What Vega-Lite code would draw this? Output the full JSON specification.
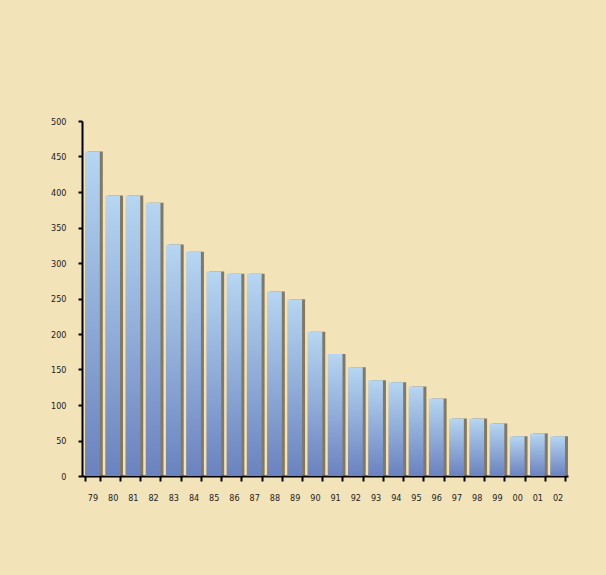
{
  "$schema": "https://vega.github.io/schema/vega-lite/v6.json",
  "width": 486,
  "height": 355,
  "autosize": {"type": "none"},
  "padding": {"left": 82, "top": 121, "right": 38, "bottom": 99},
  "background": "#F2E3B9",
  "config": {
    "view": {"stroke": null},
    "axis": {"labelFont": "DejaVu Sans Condensed", "labelFontSize": 9, "labelColor": "#222222", "domainColor": "#000000", "domainWidth": 2, "tickColor": "#000000", "tickWidth": 2, "grid": false, "title": null}
  },
  "data": {
    "values": [
      {"year": "79", "value": 457},
      {"year": "80", "value": 395},
      {"year": "81", "value": 395},
      {"year": "82", "value": 385},
      {"year": "83", "value": 326},
      {"year": "84", "value": 316},
      {"year": "85", "value": 288},
      {"year": "86", "value": 285},
      {"year": "87", "value": 285},
      {"year": "88", "value": 260},
      {"year": "89", "value": 249},
      {"year": "90", "value": 203},
      {"year": "91", "value": 172},
      {"year": "92", "value": 153},
      {"year": "93", "value": 135},
      {"year": "94", "value": 132},
      {"year": "95", "value": 126},
      {"year": "96", "value": 109},
      {"year": "97", "value": 81},
      {"year": "98", "value": 81},
      {"year": "99", "value": 74},
      {"year": "00", "value": 56},
      {"year": "01", "value": 60},
      {"year": "02", "value": 56}
    ]
  },
  "encoding": {
    "x": {"field": "year", "type": "ordinal", "sort": null,
      "scale": {"paddingInner": 0.27, "paddingOuter": 0.15},
      "axis": {"labelAngle": 0, "tickBand": "extent", "tickSize": 5, "labelPadding": 12}},
    "y": {"field": "value", "type": "quantitative",
      "scale": {"domain": [0, 500], "nice": false},
      "axis": {"values": [0, 50, 100, 150, 200, 250, 300, 350, 400, 450, 500], "tickSize": 4, "labelPadding": 12}}
  },
  "layer": [
    {"mark": {"type": "bar", "xOffset": 3, "color": "#5a4a30", "opacity": 0.7}},
    {"mark": {"type": "bar", "color": {"gradient": "linear", "x1": 0, "y1": 0, "x2": 0, "y2": 1, "stops": [{"offset": 0, "color": "#b6d6f2"}, {"offset": 1, "color": "#6a82bf"}]}}}
  ]
}
